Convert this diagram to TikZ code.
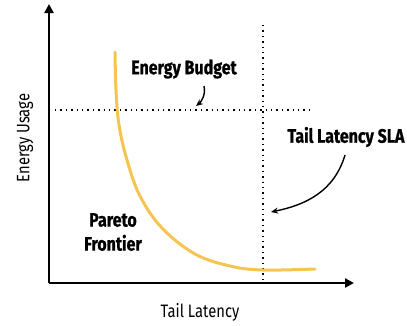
\documentclass[tikz,border=0pt]{standalone}
\usepackage{fontspec}
\setmainfont{Fira Sans}
\newfontfamily\condfont[FakeStretch=0.82, BoldFeatures={FakeBold=0.8}]{Fira Sans}
\usetikzlibrary{arrows.meta}
\definecolor{curvey}{HTML}{F5C451}
\tikzset{
  axis/.style={line width=2.6pt, -{Triangle[length=9pt,width=9pt]}},
  dotline/.style={line width=1.3pt, dash pattern=on 1.3pt off 4.1pt},
  boldlbl/.style={font=\condfont\bfseries\fontsize{19.5}{24}\selectfont, inner sep=0pt},
  axlbl/.style={font=\condfont\fontsize{18}{21}\selectfont, inner sep=0pt},
  pointer/.style={line width=1.4pt, -{Stealth[length=7pt,width=6pt]}}
}
\begin{document}
\begin{tikzpicture}[x=1pt,y=-1pt]
\useasboundingbox (0,0) rectangle (407,325);
\coordinate (o) at (49,283);
\coordinate (ytop) at (49,4);
\coordinate (xend) at (354,283);
\draw[axis] (o) -- (ytop);
\draw[axis] (o) -- (xend);
% dotted limits
\coordinate (hb1) at (55,110);
\coordinate (hb2) at (312,110);
\coordinate (vs1) at (263,25);
\coordinate (vs2) at (263,283);
\draw[dotline] (hb1) -- (hb2);
\draw[dotline] (vs1) -- (vs2);
% pareto curve
\draw[curvey, line width=3pt, line cap=round] plot[smooth, tension=0.6] coordinates
  {(115,52) (116,90) (119,125) (127,160) (140,196) (162,228) (195,254) (230,266) (263,270) (315,269)};
% labels
\node[boldlbl] (eb) at (184,69) {Energy Budget};
\node[boldlbl] (sla) at (346,137) {Tail Latency SLA};
\node[boldlbl, align=center] (pf) at (113,232) {Pareto\\Frontier};
\node[axlbl, rotate=90] (eu) at (25,138) {Energy Usage};
\node[axlbl] (tl) at (200,312) {Tail Latency};
% pointers
\coordinate (ebs) at (204,86);
\coordinate (ebe) at (196,106);
\draw[pointer] (ebs) .. controls (206,95) and (201,102) .. (ebe);
\coordinate (slas) at (345,155);
\coordinate (slae) at (271,212);
\draw[pointer] (slas) .. controls (334,192) and (305,205) .. (slae);
\end{tikzpicture}
\end{document}
